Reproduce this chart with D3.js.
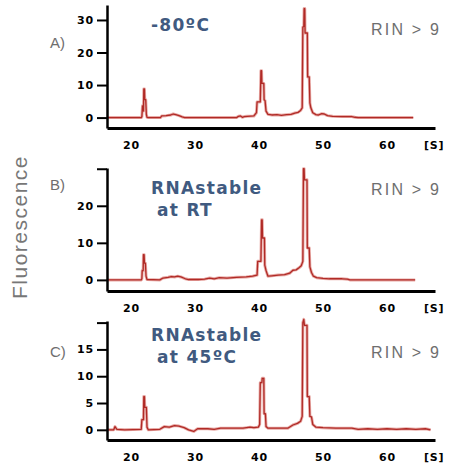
<!DOCTYPE html>
<html>
<head>
<meta charset="utf-8">
<script src="https://cdn.jsdelivr.net/npm/d3@7"></script>
<style>
  body { margin: 0; background: #fff; }
  svg { display: block; }
  .tick text, .unit { font-family: "DejaVu Sans", sans-serif; font-weight: bold; font-size: 11px; letter-spacing: 0.8px; fill: #000; }
</style>
</head>
<body>
<svg width="449" height="465"></svg>
<script>
// Electropherogram traces: migration time [s] and fluorescence
const timesA = [16.3, 21.6, 21.7, 21.8, 21.9, 21.95, 22.0, 22.1, 22.15, 22.3, 22.4, 22.5, 22.7, 24.6, 24.8, 25.5, 26.2, 26.6, 27.0, 27.5, 28.0, 28.4, 36.5, 36.8, 37.1, 37.4, 37.7, 38.2, 39.2, 39.6, 39.7, 40.2, 40.3, 40.4, 40.45, 40.75, 40.8, 40.95, 41.1, 41.4, 42, 42.8, 43.5, 44.3, 45, 45.6, 46.1, 46.5, 46.75, 46.85, 47.0, 47.05, 47.15, 47.2, 47.55, 47.6, 47.85, 47.95, 48.1, 48.4, 48.9, 49.3, 49.8, 50.2, 50.7, 51.5, 53, 54.5, 55, 55.5, 64.1];
const valuesA = [0, 0, 0.3, 3.6, 3.6, 2, 8.8, 8.8, 5.5, 5.5, 1.0, 0.1, 0, 0, 0.5, 0.6, 0.8, 1.1, 0.9, 0.6, 0.2, 0, 0, 0.4, 0.5, 0.1, 0.3, 0.4, 0.5, 1.5, 4.8, 4.8, 14.4, 14.4, 10.5, 10.5, 5.5, 5.2, 2.0, 1.0, 0.8, 0.9, 0.7, 0.9, 1.0, 1.4, 1.6, 2.2, 3.0, 27.8, 28, 33.5, 33.5, 26, 26, 12.5, 12.5, 4.5, 3.0, 1.5, 0.9, 0.8, 1.2, 1.1, 0.6, 0.4, 0.3, 0.3, 0.1, 0, 0];

const timesB = [16.3, 21.6, 21.7, 21.75, 21.9, 21.95, 22.05, 22.1, 22.25, 22.35, 22.5, 24.5, 25, 25.8, 26.3, 26.8, 27.3, 27.8, 28.5, 29, 30.5, 31.5, 32.3, 33, 33.8, 35, 36.5, 38, 39, 39.7, 39.8, 40.3, 40.4, 40.5, 40.55, 40.85, 40.9, 41.1, 41.4, 42, 43, 44, 44.8, 45.3, 45.8, 46.2, 46.6, 46.85, 46.95, 47.05, 47.1, 47.5, 47.55, 47.85, 47.95, 48.2, 48.5, 49, 50, 51, 53, 53.8, 54.2, 64.4];
const valuesB = [0, 0, 0.3, 2.5, 2.5, 6.8, 6.8, 4.5, 4.5, 1.0, 0.1, 0, 0.5, 0.7, 0.9, 0.8, 1.0, 0.8, 0.3, 0.1, 0.1, 0.2, 0.5, 0.3, 0.6, 0.5, 0.7, 0.8, 1.0, 1.3, 5.0, 5.0, 16.2, 16.2, 11.3, 11.3, 4.0, 2.5, 1.0, 1.1, 1.3, 1.4, 1.8, 2.6, 2.7, 3.2, 3.8, 5, 30, 30, 27, 27, 8.6, 8.6, 3.5, 2, 1.0, 0.6, 0.4, 0.3, 0.3, 0.2, 0, 0];

const timesC = [16.3, 17.3, 17.5, 17.8, 19, 21.6, 21.7, 21.95, 22.0, 22.1, 22.15, 22.4, 22.5, 22.7, 24.5, 25.2, 26, 26.8, 27.5, 28.3, 29, 29.8, 30.4, 32, 33, 34, 36, 37.5, 38.6, 39.2, 39.9, 40.1, 40.2, 40.45, 40.5, 40.75, 40.8, 41.0, 41.1, 41.4, 43, 44.5, 45.3, 46, 46.5, 46.75, 46.85, 47.0, 47.1, 47.5, 47.55, 47.85, 47.95, 48.2, 48.4, 48.9, 50, 52, 54.5, 55.5, 57, 58.5, 60, 61.5, 63, 64.5, 66, 66.8];
const valuesC = [0, 0, 0.6, 0.1, 0, 0.1, 1.9, 1.9, 6.2, 6.2, 4.2, 4.2, 0.5, 0, 0.1, 0.6, 0.5, 0.8, 0.7, 0.4, 0, -0.3, 0.2, 0.2, 0.1, 0.3, 0.3, 0.3, 0.5, 0.4, 0.5, 1, 8.8, 8.8, 9.6, 9.6, 3, 3, 0.6, 0.3, 0.3, 0.3, 0.9, 1.2, 1.6, 2.5, 20, 20.6, 19.5, 19.5, 6.2, 6.2, 2.5, 2.4, 1.0, 0.5, 0.4, 0.3, 0.3, 0.1, 0.2, 0.1, 0.2, 0.1, 0.2, 0.1, 0.2, 0];

// axis ticks
const xTicks = [20, 30, 40, 50, 60];
const yTicksA = [0, 10, 20, 30];
const yTicksB = [0, 10, 20, 30];
const yTicksC = [0, 5, 10, 15, 20];
const yLabelsA = ["0", "10", "20", "30"];
const yLabelsB = ["0", "10", "20", ""];
const yLabelsC = ["0", "5", "10", "15", ""];

// panel texts
const panelLetters = ["A)", "B)", "C)"];
const panelTitles = [["-80ºC"], ["RNAstable", "at RT"], ["RNAstable", "at 45ºC"]];
const rinText = "RIN > 9";

const svg = d3.select("svg");

// x scale shared by all three panels
const xScale = d3.scaleLinear().domain([16.25, 67.5]).range([107, 435]);

// layout of each panel (pixel positions only)
const panels = [
  { times: timesA, values: valuesA, yDomain: [-3.2, 34.6], yRange: [128, 5], ticks: yTicksA, labels: yLabelsA, letterY: 48, titleY: [31], rinY: 35 },
  { times: timesB, values: valuesB, yDomain: [-3.0, 30.2], yRange: [291, 168], ticks: yTicksB, labels: yLabelsB, letterY: 190, titleY: [194, 216], rinY: 195 },
  { times: timesC, values: valuesC, yDomain: [-1.9, 20.3], yRange: [440, 321], ticks: yTicksC, labels: yLabelsC, letterY: 357, titleY: [341, 363], rinY: 358 }
];

panels.forEach((p, i) => {
  const yScale = d3.scaleLinear().domain(p.yDomain).range(p.yRange);
  const g = svg.append("g");
  const data = p.times.map((t, k) => ({ t: t, v: p.values[k] }));

  const line = d3.line()
    .x((d) => xScale(d.t))
    .y((d) => yScale(d.v));

  // soft halo under the trace, then the trace itself
  g.append("path")
    .datum(data)
    .attr("d", line)
    .attr("fill", "none")
    .attr("stroke", "#e8aaa6")
    .attr("stroke-width", 3)
    .attr("stroke-linejoin", "round");
  g.append("path")
    .datum(data)
    .attr("d", line)
    .attr("fill", "none")
    .attr("stroke", "#b02a26")
    .attr("stroke-width", 1.3)
    .attr("stroke-linejoin", "round");

  // x axis: heavy line, no tick marks
  const xAxis = d3.axisBottom(xScale).tickValues(xTicks).tickSize(0).tickPadding(13);
  const xAxisG = g.append("g")
    .attr("transform", `translate(0,${p.yRange[0]})`)
    .call(xAxis);
  xAxisG.select(".domain").attr("stroke", "#000").attr("stroke-width", 3);

  xAxisG.append("text")
    .attr("class", "unit")
    .attr("x", 424)
    .attr("y", 13)
    .attr("dy", "0.71em")
    .attr("text-anchor", "start")
    .text("[S]");

  // y axis with left ticks
  const yAxis = d3.axisLeft(yScale)
    .tickValues(p.ticks)
    .tickFormat((d, k) => p.labels[k])
    .tickSize(10)
    .tickPadding(3)
    .tickSizeOuter(0);
  const yAxisG = g.append("g")
    .attr("transform", "translate(107,0)")
    .call(yAxis);
  yAxisG.select(".domain").attr("stroke", "#000").attr("stroke-width", 2.5);
  yAxisG.selectAll(".tick line").attr("stroke", "#000").attr("stroke-width", 2);

  // panel letter
  svg.append("text")
    .attr("x", 50)
    .attr("y", p.letterY)
    .attr("font-family", "Liberation Sans, Arial, sans-serif")
    .attr("font-size", 15)
    .attr("fill", "#6e6e6e")
    .text(panelLetters[i]);

  // condition title
  panelTitles[i].forEach((txt, k) => {
    svg.append("text")
      .attr("x", k === 0 ? 151 : 157)
      .attr("y", p.titleY[k])
      .attr("font-family", "DejaVu Sans, sans-serif")
      .attr("font-weight", "bold")
      .attr("font-size", 17)
      .attr("letter-spacing", "1.3px")
      .attr("fill", "#405a80")
      .text(txt);
  });

  // RIN label
  svg.append("text")
    .attr("x", 371)
    .attr("y", p.rinY)
    .attr("font-family", "Liberation Sans, Arial, sans-serif")
    .attr("font-size", 16)
    .attr("letter-spacing", "2.2px")
    .attr("fill", "#6e6e6e")
    .text(rinText);
});

// shared y label
svg.append("text")
  .attr("transform", "translate(27,227) rotate(-90)")
  .attr("text-anchor", "middle")
  .attr("font-family", "Liberation Sans, Arial, sans-serif")
  .attr("font-size", 21)
  .attr("letter-spacing", "1.5px")
  .attr("fill", "#777")
  .text("Fluorescence");
</script>
</body>
</html>
